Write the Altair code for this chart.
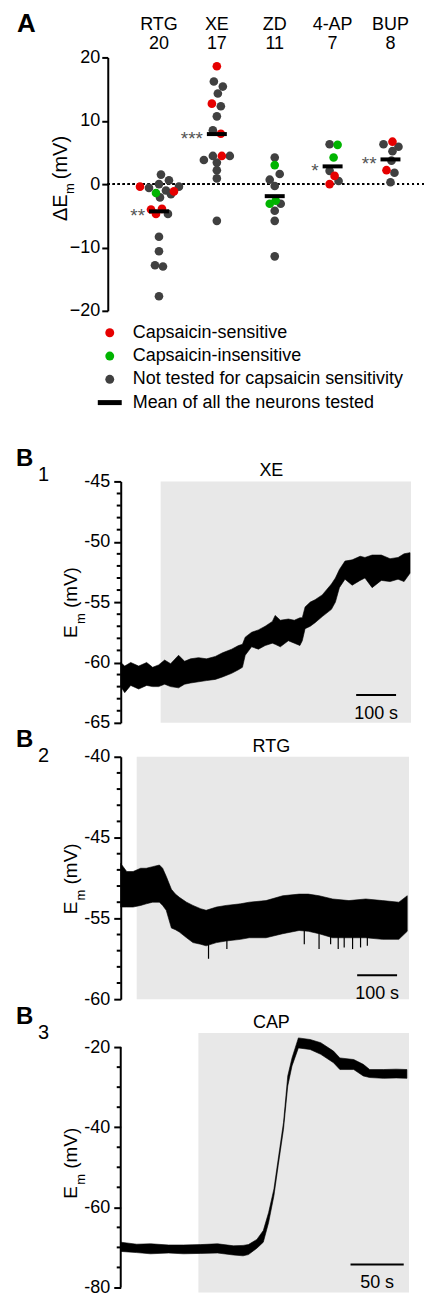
import altair as alt
import pandas as pd

FONT = "Liberation Sans"
RED = "#e60000"
GREEN = "#00b400"
DARK = "#404040"
BG = "#e8e8e8"

# ---------------- Panel A data ----------------
categories = ["RTG", "XE", "ZD", "4-AP", "BUP"]
n_cells = ["20", "17", "11", "7", "8"]
means = [-4.3, 7.9, -1.9, 2.8, 3.9]
stars = ["**", "***", "", "*", "**"]

rtg_v = [1.5, 0.6, 0.0, -0.6, -0.4, -1.4, -1.0, -1.15, -0.4, -2.1, -1.6, -4.0, -3.9, -4.7, -4.7, -8.3, -10.6, -12.8, -13.0, -17.7]
rtg_dx = [2, 10, 0, -10, -19, -3, 7, 15, 20, 1, 12, -8, 3, -3, 9, 0, 0, -4, 4, 0]
rtg_k = ["N", "N", "N", "N", "S", "I", "N", "S", "N", "N", "N", "S", "S", "S", "N", "N", "N", "N", "N", "N"]

xe_v = [18.6, 16.2, 15.4, 14.3, 12.7, 12.3, 10.7, 8.5, 7.95, 3.8, 4.45, 4.45, 4.45, 3.4, 2.2, 0.9, -5.8]
xe_dx = [0, -3, 6, 1, -5, 4, 0, -4, 4, -13, -4, 5, 13, 0, 0, 0, 0]
xe_k = ["S", "N", "N", "N", "S", "N", "N", "N", "S", "N", "N", "S", "N", "N", "N", "N", "N"]

zd_v = [4.2, 3.0, 1.6, 0.7, -0.3, -3.1, -2.6, -3.1, -4.2, -5.8, -11.4]
zd_dx = [0, 0, 5, -5, 0, -5, 1, 6, 0, 0, 0]
zd_k = ["N", "I", "N", "N", "N", "I", "I", "N", "N", "N", "N"]

ap_v = [6.3, 6.2, 4.2, 2.1, 1.3, 0.5, 0.0]
ap_dx = [-3, 5, 1, -3, 2, 6, -3]
ap_k = ["N", "I", "I", "N", "S", "N", "S"]

bup_v = [6.3, 6.7, 5.9, 5.2, 3.7, 2.2, 1.8, 0.3]
bup_dx = [-7, 2, 8, 2, 1, -4, 4, 0]
bup_k = ["N", "S", "N", "N", "N", "S", "N", "N"]

legend_labels = ["Capsaicin-sensitive", "Capsaicin-insensitive",
                 "Not tested for capsaicin sensitivity", "Mean of all the neurons tested"]
legend_colors = [RED, GREEN, DARK]

# ---------------- Trace data (B panels) ----------------
b1_t = [0, 10, 25, 45, 65, 80, 95, 110, 125, 145, 160, 175, 195, 215, 237, 255, 278, 295, 305, 312,
        328, 345, 362, 380, 387, 400, 420, 435, 449, 455, 462, 475, 487, 505, 528, 538, 548, 562, 580, 600,
        612, 630, 653, 675, 695, 710, 725]
b1_top = [-60.0, -60.3, -60.0, -60.3, -60.0, -60.4, -60.2, -59.8, -60.1, -59.4, -59.9, -59.7, -59.6, -59.7, -59.5, -59.2, -58.9, -58.6, -58.5, -57.9,
          -57.5, -57.3, -57.0, -56.6, -56.1, -56.5, -56.4, -56.5, -56.3, -56.3, -55.4, -55.0, -54.8, -54.4, -53.5, -53.0, -52.3, -51.6, -51.5, -51.2,
          -51.3, -51.1, -51.1, -51.4, -51.3, -51.0, -50.9]
b1_bot = [-62.0, -62.5, -61.9, -62.2, -61.9, -62.0, -62.0, -61.8, -62.0, -62.1, -61.8, -61.7, -61.6, -61.5, -61.4, -61.2, -60.9, -60.6, -60.4, -59.4,
          -58.7, -58.9, -58.6, -58.4, -58.5, -58.7, -58.2, -58.4, -58.6, -58.2, -57.2, -57.0, -56.7, -56.2, -55.6, -55.0, -53.8, -53.1, -53.6, -53.2,
          -53.0, -53.8, -53.2, -53.3, -53.1, -53.3, -52.6]
b1_ticks = [-65, -60, -55, -50, -45]
b1_labels = ["-65", "-60", "-55", "-50", "-45"]
b1_minor = [-64, -63, -62, -61, -59, -58, -57, -56, -54, -53, -52, -51, -49, -48, -47, -46]

b2_t = [0, 15, 31, 50, 64, 80, 97, 105, 114, 127, 137, 147, 165, 181, 200, 214, 240, 264, 300, 322,
        364, 406, 447, 470, 497, 531, 572, 614, 656, 697, 718]
b2_top = [-51.6, -52.1, -52.1, -51.9, -51.9, -51.8, -51.7, -51.9, -52.4, -53.2, -53.5, -53.7, -54.0, -54.2, -54.4, -54.5, -54.3, -54.2, -54.1, -54.0,
          -53.9, -53.6, -53.5, -53.5, -53.6, -53.8, -53.9, -53.8, -53.9, -54.0, -53.6]
b2_bot = [-54.3, -54.3, -54.3, -54.2, -54.1, -54.0, -54.0, -54.2, -54.5, -55.6, -55.7, -55.85, -56.2, -56.5, -56.6, -56.7, -56.5, -56.4, -56.3, -56.2,
          -56.2, -55.95, -55.75, -55.8, -55.95, -56.2, -56.2, -56.2, -56.3, -56.3, -55.8]
b2_spike_t = [220, 266, 460, 497, 526, 545, 560, 581, 601, 618]
b2_spike_v = [-57.5, -56.9, -56.6, -56.9, -56.6, -56.9, -56.8, -56.9, -56.8, -56.7]
b2_ticks = [-60, -55, -50, -45]
b2_labels = ["-60", "-55", "-45", "-40"]
b2_minor = [-59, -58, -57, -56, -54, -53, -52, -51, -49, -48, -47, -46]

b3_t = [0, 15, 28, 45, 59, 75, 91, 106, 115, 120, 128, 134, 139, 144, 148, 153, 157, 161, 167, 178,
        188, 200, 206, 219, 228, 234, 247, 259, 269]
b3_top = [-68.7, -69.2, -69.1, -69.4, -69.4, -69.3, -69.1, -69.6, -69.5, -69.3, -68.0, -65.8, -61.3, -55.4, -48.0, -38.8, -27.2, -22.7, -17.7, -18.1,
          -18.9, -21.0, -22.7, -23.1, -24.3, -25.6, -25.6, -25.5, -25.6]
b3_bot = [-71.0, -71.3, -71.6, -71.4, -71.6, -71.5, -71.4, -71.9, -72.1, -71.8, -70.2, -68.7, -63.8, -57.1, -49.6, -40.5, -29.7, -24.7, -20.2, -20.6,
          -21.8, -23.9, -25.6, -25.6, -27.2, -27.6, -27.8, -27.7, -27.8]
b3_ticks = [-80, -60, -40, -20]
b3_labels = ["-80", "-60", "-40", "-20"]
b3_minor = [-75, -70, -65, -55, -50, -45, -35, -30, -25]


def txt(s, x, y, size, align="left", baseline="alphabetic", angle=0, bold=False, color="black"):
    kw = dict(align=align, baseline=baseline, fontSize=size, font=FONT, color=color,
              fontWeight="bold" if bold else "normal")
    if angle:
        kw["angle"] = angle
    return alt.Chart(pd.DataFrame({"s": [s]})).mark_text(**kw).encode(
        x=alt.value(x), y=alt.value(y), text="s:N")


# ---------------- Panel A ----------------
rows = []
for cat, vs, dxs, ks in [("RTG", rtg_v, rtg_dx, rtg_k), ("XE", xe_v, xe_dx, xe_k), ("ZD", zd_v, zd_dx, zd_k),
                         ("4-AP", ap_v, ap_dx, ap_k), ("BUP", bup_v, bup_dx, bup_k)]:
    for v, dx, k in zip(vs, dxs, ks):
        rows.append({"cat": cat, "v": v, "dx": dx, "kind": k, "ord": 0 if k == "N" else 1})
pts = pd.DataFrame(rows).sort_values("ord", kind="stable")
summ = pd.DataFrame({"cat": categories, "n": n_cells, "mean": means, "stars": stars})

WA, HA = 304, 254
BANDW = WA / (5 + 0.24)
xcat = alt.X("cat:N", sort=categories,
             scale=alt.Scale(paddingInner=0, paddingOuter=0.12, align=0.67), axis=None)
yA = alt.Y("v:Q", scale=alt.Scale(domain=[-20, 20], nice=False, zero=False),
           axis=alt.Axis(values=[-20, -15, -10, -5, 0, 5, 10, 15, 20], offset=13, tickSize=6, tickWidth=2,
                         domainWidth=2, domainColor="black", tickColor="black", labelFontSize=18,
                         labelFont=FONT, labelColor="black", labelPadding=2, title=None, grid=False))

zero = alt.Chart(summ).mark_rule(strokeDash=[2, 3], strokeWidth=2, color="black").encode(
    y=alt.datum(0), x=alt.value(-13), x2=alt.value(WA))
dots = alt.Chart(pts).mark_circle(size=75, opacity=1).encode(
    x=xcat,
    xOffset=alt.XOffset("dx:Q", scale=alt.Scale(domain=[-BANDW / 2, BANDW / 2], range=[0, BANDW])),
    y=yA,
    color=alt.Color("kind:N", scale=alt.Scale(domain=["S", "I", "N"], range=[RED, GREEN, DARK]), legend=None))
mbar = alt.Chart(summ).mark_tick(color="black", thickness=4, size=20, opacity=1).encode(
    x=alt.X("cat:N", sort=categories), y=alt.Y("mean:Q"))
star_t = alt.Chart(summ).mark_text(align="right", baseline="middle", dx=-14, dy=5, fontSize=19,
                                   font=FONT, color="#555555").encode(
    x=alt.X("cat:N", sort=categories), y=alt.Y("mean:Q"), text="stars:N")
top1 = alt.Chart(summ).mark_text(baseline="alphabetic", fontSize=18, font=FONT, color="black").encode(
    x=alt.X("cat:N", sort=categories), y=alt.value(-27), text="cat:N")
top2 = alt.Chart(summ).mark_text(baseline="alphabetic", fontSize=18, font=FONT, color="black").encode(
    x=alt.X("cat:N", sort=categories), y=alt.value(-8), text="n:N")

panelA = alt.layer(
    zero, dots, mbar, star_t, top1, top2,
    txt("A", -104, -25, 26, bold=True),
    txt("ΔE", -54, 164, 20, angle=270),
    txt("m", -47, 137, 13, angle=270),
    txt("(mV)", -54, 122, 20, angle=270),
).properties(width=WA, height=HA)

# ---------------- Legend ----------------
leg_df = pd.DataFrame({"label": legend_labels})
ly = alt.Y("label:N", sort=legend_labels, scale=alt.Scale(type="point", range=[-12, 58], padding=0), axis=None)
leg_text = alt.Chart(leg_df).mark_text(align="left", baseline="middle", fontSize=18, font=FONT,
                                       color="black").encode(x=alt.value(12), y=ly, text="label:N")
leg_dots = alt.Chart(pd.DataFrame({"label": legend_labels[:3], "color": legend_colors})).mark_circle(
    size=80, opacity=1).encode(x=alt.value(-11), y=ly, color=alt.Color("color:N", scale=None))
leg_bar = alt.Chart(pd.DataFrame({"label": legend_labels[3:]})).mark_rule(strokeWidth=5, color="black").encode(
    x=alt.value(-23), x2=alt.value(1), y=ly)
legend = alt.layer(leg_dots, leg_bar, leg_text).properties(width=WA, height=103)


# ---------------- Trace panels ----------------
def label_expr(vals, labs):
    e = "''"
    for v, l in zip(vals, labs):
        e = f"datum.value == {v} ? '{l}' : ({e})"
    return e


def trace_panel(t, top, bot, ydom, width, height, xmax, win, ticks, labels, minor,
                bar, bar_label, bar_y, title, sub, letter_base, ylab_start,
                spikes=None, axis_line=None):
    df = pd.DataFrame({"t": t, "top": top, "bot": bot})
    xs = alt.Scale(domain=[0, xmax], nice=False, zero=False)
    ys = alt.Scale(domain=ydom, nice=False, zero=False)
    yax = alt.Axis(values=ticks, labelExpr=label_expr(ticks, labels), tickSize=7, tickWidth=2,
                   domain=axis_line is None, domainWidth=2, domainColor="black", tickColor="black",
                   labelFontSize=18, labelFont=FONT, labelColor="black", labelPadding=4,
                   title=None, grid=False)
    bg = alt.Chart(pd.DataFrame({"a": [win[0]], "b": [win[1]], "lo": [ydom[0]], "hi": [ydom[1]]})).mark_rect(
        color=BG).encode(x=alt.X("a:Q", scale=xs, axis=None), x2="b:Q",
                         y=alt.Y("lo:Q", scale=ys, axis=yax), y2="hi:Q")
    area = alt.Chart(df).mark_area(color="black", stroke="black", strokeWidth=0.6, opacity=1).encode(
        x=alt.X("t:Q"), y=alt.Y("top:Q"), y2="bot:Q")
    layers = [bg, area]
    if spikes is not None:
        sp = pd.DataFrame({"t": spikes[0], "v": spikes[1]})
        layers.append(alt.Chart(sp).mark_rule(color="black", strokeWidth=1.2).encode(
            x="t:Q", y="v:Q", y2=alt.datum(-55.5)))
    mdf = pd.DataFrame({"m": minor})
    layers.append(alt.Chart(mdf).mark_rule(color="black", strokeWidth=2).encode(
        y="m:Q", x=alt.value(-4), x2=alt.value(0)))
    if axis_line is not None:
        layers.append(alt.Chart(pd.DataFrame({"lo": [axis_line[0]], "hi": [axis_line[1]]})).mark_rule(
            color="black", strokeWidth=2).encode(y="lo:Q", y2="hi:Q", x=alt.value(0)))
    bdf = pd.DataFrame({"a": [bar[0]], "b": [bar[1]], "mid": [(bar[0] + bar[1]) / 2], "s": [bar_label]})
    layers.append(alt.Chart(bdf).mark_rule(color="black", strokeWidth=2).encode(
        x="a:Q", x2="b:Q", y=alt.value(bar_y)))
    layers.append(alt.Chart(bdf).mark_text(baseline="middle", fontSize=18, font=FONT, color="black").encode(
        x="mid:Q", y=alt.value(bar_y + 19), text="s:N"))
    layers.append(txt(title, 151, -5, 18, align="center"))
    layers.append(txt("B", -105, letter_base, 24, bold=True))
    layers.append(txt(sub, -83, letter_base + 15, 20))
    layers.append(txt("E", -44, ylab_start, 19, angle=270))
    layers.append(txt("m", -36, ylab_start - 14, 13, angle=270))
    layers.append(txt("(mV)", -44, ylab_start - 30, 19, angle=270))
    return alt.layer(*layers).properties(width=width, height=height)


B1 = trace_panel(b1_t, b1_top, b1_bot, [-65, -45], 291, 242, 727.5, [100, 727.5],
                 b1_ticks, b1_labels, b1_minor, [590, 690], "100 s", 214, "XE", "1", -15, 157)
B2 = trace_panel(b2_t, b2_top, b2_bot, [-60, -45], 289, 243, 722.5, [40, 722.5],
                 b2_ticks, b2_labels, b2_minor, [592.5, 692.5], "100 s", 219, "RTG", "2", -10, 158,
                 spikes=(b2_spike_t, b2_spike_v))
B3 = trace_panel(b3_t, b3_top, b3_bot, [-81.25, -16.5], 289, 260, 271, [73, 271],
                 b3_ticks, b3_labels, b3_minor, [216, 266], "50 s", 232, "CAP", "3", -9, 166,
                 axis_line=(-80, -20))

chart = alt.vconcat(panelA, legend, B1, B2, B3, spacing=34, bounds="flush").properties(
    padding={"left": 8, "top": 2, "right": 0, "bottom": 0}
).configure(font=FONT).configure_view(strokeWidth=0, stroke="transparent")

chart.save("out.html", embed_options={"renderer": "svg", "actions": False})
